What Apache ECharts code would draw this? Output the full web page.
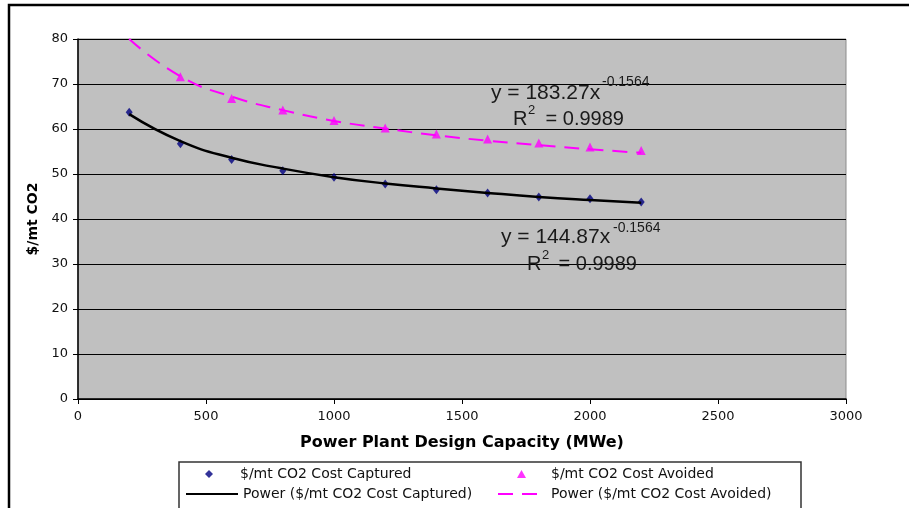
<!DOCTYPE html>
<html>
<head>
<meta charset="utf-8" />
<title>CO2 cost vs plant capacity</title>
<script src="https://cdn.jsdelivr.net/npm/echarts@6/dist/echarts.min.js"></script>
<style>
  html, body { margin: 0; padding: 0; background: #fff; }
  #main { width: 909px; height: 508px; }
</style>
</head>
<body>
<div id="main"></div>
<script>
// capacity (MWe) of each plant size
var capacity = [200, 400, 600, 800, 1000, 1200, 1400, 1600, 1800, 2000, 2200];
// $/mt CO2 cost captured (markers)
var costCaptured = [63.7, 56.7, 53.2, 50.7, 49.3, 47.8, 46.5, 45.8, 44.9, 44.5, 43.8];
// $/mt CO2 cost avoided (markers), the 200 MWe point sits above the 80 top of the chart
var capacityAvoided = [400, 600, 800, 1000, 1200, 1400, 1600, 1800, 2000, 2200];
var costAvoided = [71.6, 66.8, 64.2, 61.9, 60.2, 58.9, 57.8, 56.9, 56.0, 55.2];
// power trendlines at each capacity
var trendCaptured = [63.3, 57.3, 53.6, 51.2, 49.3, 47.9, 46.8, 45.8, 44.9, 44.2, 43.6];
var trendAvoided = [80.0, 71.7, 67.2, 64.2, 61.8, 60.1, 58.6, 57.4, 56.4, 55.5, 54.7];
var yTicks = [0, 80, 10];
var xTicks = [0, 3000, 500];

var FONT = '"Liberation Sans", Arial, sans-serif';
var WIDE = '"DejaVu Sans", Verdana, sans-serif';

function pairs(xs, ys) {
  var out = [];
  for (var i = 0; i < xs.length; i++) out.push([xs[i], ys[i]]);
  return out;
}

var chart = echarts.init(document.getElementById('main'));

function txt(x, y, s, size) {
  return {
    type: 'text', x: x, y: y, z: 100,
    style: { text: s, fill: '#1a1a1a', font: size + 'px ' + FONT, textAlign: 'left', textVerticalAlign: 'middle' }
  };
}

// one legend per entry so the marker entries can keep a small icon
function leg(left, top, w, h, padLeft, item) {
  return {
    orient: 'horizontal', left: left, top: top,
    itemWidth: w, itemHeight: h,
    textStyle: { fontSize: 14, color: '#111', fontFamily: WIDE, padding: [0, 0, 0, padLeft] },
    data: [item]
  };
}

chart.setOption({
  animation: false,
  textStyle: { fontFamily: FONT },
  grid: {
    left: 78, top: 39, right: 63, bottom: 109,
    show: true, backgroundColor: '#c0c0c0', borderColor: '#8c8c8c', borderWidth: 1
  },
  xAxis: {
    type: 'value', min: xTicks[0], max: xTicks[1], interval: xTicks[2],
    name: 'Power Plant Design Capacity (MWe)',
    nameLocation: 'middle', nameGap: 36,
    nameTextStyle: { fontSize: 16, fontWeight: 'bold', color: '#000', fontFamily: WIDE },
    axisLine: { lineStyle: { color: '#000', width: 1.5 } },
    axisTick: { show: true, length: 5, lineStyle: { color: '#000' } },
    axisLabel: { color: '#111', fontSize: 13, margin: 11, fontFamily: WIDE, formatter: function (v) { return String(v); } },
    splitLine: { show: false }
  },
  yAxis: {
    type: 'value', min: yTicks[0], max: yTicks[1], interval: yTicks[2],
    name: '$/mt CO2',
    nameLocation: 'middle', nameRotate: 90, nameGap: 38,
    nameTextStyle: { fontSize: 14, fontWeight: 'bold', color: '#000', fontFamily: WIDE },
    axisLine: { show: true, lineStyle: { color: '#000', width: 1.5 } },
    axisTick: { show: true, length: 5, lineStyle: { color: '#000' } },
    axisLabel: { color: '#111', fontSize: 13, margin: 10, fontFamily: WIDE },
    splitLine: { lineStyle: { color: '#000', width: 1 } }
  },
  legend: [
    leg(200, 462, 8, 8, 22, { name: '$/mt CO2 Cost Captured', icon: 'diamond' }),
    leg(180, 482, 52, 8, 0, { name: 'Power ($/mt CO2 Cost Captured)', itemStyle: { opacity: 0 } }),
    leg(512, 462, 9, 8, 20, { name: '$/mt CO2 Cost Avoided', icon: 'triangle' }),
    leg(492, 482, 48, 8, 0, { name: 'Power ($/mt CO2 Cost Avoided)', itemStyle: { opacity: 0 } })
  ],
  series: [{
    name: 'Power ($/mt CO2 Cost Captured)',
    type: 'line', smooth: true, symbol: 'none',
    data: pairs(capacity, trendCaptured),
    lineStyle: { color: '#000', width: 2.5 },
    itemStyle: { color: '#000' }
  }, {
    name: 'Power ($/mt CO2 Cost Avoided)',
    type: 'line', smooth: true, symbol: 'none',
    data: pairs(capacity, trendAvoided),
    lineStyle: { color: '#ff00ff', width: 2, type: [15, 9] },
    itemStyle: { color: '#ff00ff' }
  }, {
    name: '$/mt CO2 Cost Captured',
    type: 'scatter', symbol: 'diamond', symbolSize: [7, 9],
    data: pairs(capacity, costCaptured),
    itemStyle: { color: '#000080' }
  }, {
    name: '$/mt CO2 Cost Avoided',
    type: 'scatter', symbol: 'triangle', symbolSize: 9,
    data: pairs(capacityAvoided, costAvoided),
    itemStyle: { color: '#ff00ff' }
  }],
  graphic: [
    // chart frame and legend box
    { type: 'rect', z: 50, shape: { x: 9, y: 5, width: 1000, height: 600 }, style: { fill: 'none', stroke: '#000', lineWidth: 2.5 } },
    { type: 'rect', z: 50, shape: { x: 179, y: 462, width: 622, height: 60 }, style: { fill: 'none', stroke: '#333', lineWidth: 1.5 } },
    // avoided trendline equation
    txt(491, 93, 'y = 183.27x', 21),
    txt(602, 82, '-0.1564', 14),
    txt(513, 119, 'R', 20),
    txt(528, 110, '2', 13),
    txt(540, 119, ' = 0.9989', 20),
    // captured trendline equation
    txt(501, 237, 'y = 144.87x', 21),
    txt(613, 228, '-0.1564', 14),
    txt(527, 264, 'R', 20),
    txt(542, 255, '2', 13),
    txt(553, 264, ' = 0.9989', 20)
  ]
});
</script>
</body>
</html>
